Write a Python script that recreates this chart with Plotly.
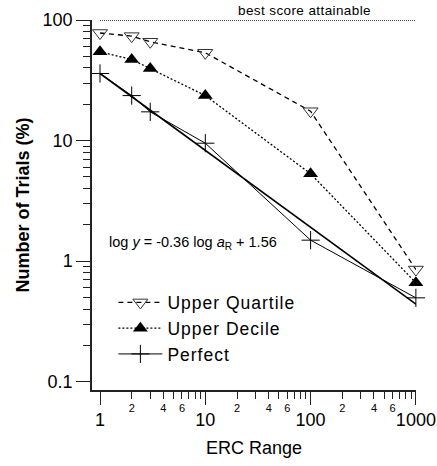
import numpy as np
import plotly.graph_objects as go

# ---- data ----
erc = [1, 2, 3, 10, 100, 1000]
upper_quartile = [78, 73.5, 66, 53.5, 17.5, 0.85]
upper_decile = [54.5, 47, 39.5, 23.6, 5.3, 0.66]
perfect = [36, 23.6, 17.3, 9.5, 1.49, 0.495]

fit_slope = -0.638
fit_intercept = 1.556
best_score = 100

y_tickvals = [0.1, 1, 10, 100]
y_ticktext = ["0.1", "1", "10", "100"]
x_tickvals = [1, 10, 100, 1000]
x_ticktext = ["1", "10", "100", "1000"]
x_minor_labels = [2, 4, 6, 20, 40, 60, 200, 400, 600]
x_minor_text = ["2", "4", "6", "2", "4", "6", "2", "4", "6"]

decades_minor = [m * 10 ** d for d in range(-1, 3) for m in range(2, 10)]

FONT = "Liberation Sans, Arial, sans-serif"


def spaced(t, px=1):
    return f"<span style='letter-spacing:{px}px'>{t}</span>"


fit_x = np.array([erc[0], erc[-1]], dtype=float)
fit_y = 10 ** (fit_intercept + fit_slope * np.log10(fit_x))

fig = go.Figure()

# best score attainable line (on overlay axis x2)
fig.add_trace(go.Scatter(
    x=[erc[0], erc[-1]], y=[best_score, best_score], xaxis="x2", yaxis="y",
    mode="lines", line=dict(color="#111", width=1.4, dash="1px,1px"),
    showlegend=False, hoverinfo="skip"))

# regression line
fig.add_trace(go.Scatter(
    x=fit_x, y=fit_y, mode="lines", line=dict(color="black", width=1.6),
    showlegend=False, hoverinfo="skip"))

fig.add_trace(go.Scatter(
    x=erc, y=upper_quartile, name=spaced("Upper Quartile"), mode="lines+markers",
    line=dict(color="black", width=1.3, dash="5px,4px"),
    marker=dict(symbol="triangle-down-open", size=13, color="#333",
                line=dict(color="#333", width=1)),
    cliponaxis=False))

fig.add_trace(go.Scatter(
    x=erc, y=upper_decile, name=spaced("Upper Decile"), mode="lines+markers",
    line=dict(color="black", width=1.3, dash="2px,2px"),
    marker=dict(symbol="triangle-up", size=13, color="black"),
    cliponaxis=False))

fig.add_trace(go.Scatter(
    x=erc, y=perfect, name=spaced("Perfect"), mode="lines+markers",
    line=dict(color="black", width=1),
    marker=dict(symbol="cross-thin", size=13, color="black",
                line=dict(color="black", width=1)),
    cliponaxis=False))

xrange = [-0.076, 3.001]

fig.update_layout(
    width=437, height=466,
    margin=dict(l=92, r=21, t=20, b=76),
    paper_bgcolor="white", plot_bgcolor="white",
    font=dict(family=FONT, color="black"),
    showlegend=True,
    legend=dict(x=0.066, y=0.285, xanchor="left", yanchor="top",
                bgcolor="rgba(0,0,0,0)", font=dict(size=17.5, family=FONT),
                itemwidth=44, tracegroupgap=0),
    xaxis=dict(
        type="log", range=xrange, showgrid=False, zeroline=False, automargin=False,
        showline=True, linecolor="#222", linewidth=1.5,
        tickmode="array", tickvals=x_tickvals, ticktext=x_ticktext,
        ticks="outside", ticklen=13, tickwidth=1.3, tickcolor="#222",
        tickfont=dict(size=18, family=FONT),
        minor=dict(ticks="outside", ticklen=7, tickwidth=1.2, tickcolor="#222",
                   tickmode="array", tickvals=decades_minor[8:], showgrid=False),
        title=dict(text="ERC Range", font=dict(size=18, family=FONT), standoff=12),
    ),
    xaxis2=dict(
        type="log", range=xrange, overlaying="x", anchor="y", side="bottom",
        showgrid=False, zeroline=False, showline=False, automargin=False,
        tickmode="array", tickvals=x_minor_labels, ticktext=x_minor_text,
        ticks="", tickfont=dict(size=11, family=FONT), ticklabelstandoff=10,
    ),
    yaxis=dict(
        type="log", range=[-1.07, 2.0], showgrid=False, zeroline=False, automargin=False,
        showline=True, linecolor="#222", linewidth=1.5,
        tickmode="array", tickvals=y_tickvals, ticktext=y_ticktext,
        ticks="outside", ticklen=14, tickwidth=1.3, tickcolor="#222",
        tickfont=dict(size=18, family=FONT),
        minor=dict(ticks="outside", ticklen=7, tickwidth=1.2, tickcolor="#222",
                   tickmode="array", tickvals=decades_minor, showgrid=False),
        title=dict(text="<b>Number of Trials (%)</b>", font=dict(size=18, family=FONT),
                   standoff=8),
    ),
    annotations=[
        dict(text=spaced("best score attainable", 0.4), xref="paper", yref="y",
             x=0.657, y=2.0, yanchor="bottom", yshift=0, showarrow=False,
             font=dict(size=13.5, family=FONT)),
        dict(text="log <i>y</i> = -0.36 log <i>a</i><sub>R</sub> + 1.56",
             xref="paper", yref="paper", x=0.045, y=0.398, xanchor="left",
             yanchor="middle", showarrow=False, font=dict(size=14.5, family=FONT)),
    ],
)

fig.write_html("out.html")
